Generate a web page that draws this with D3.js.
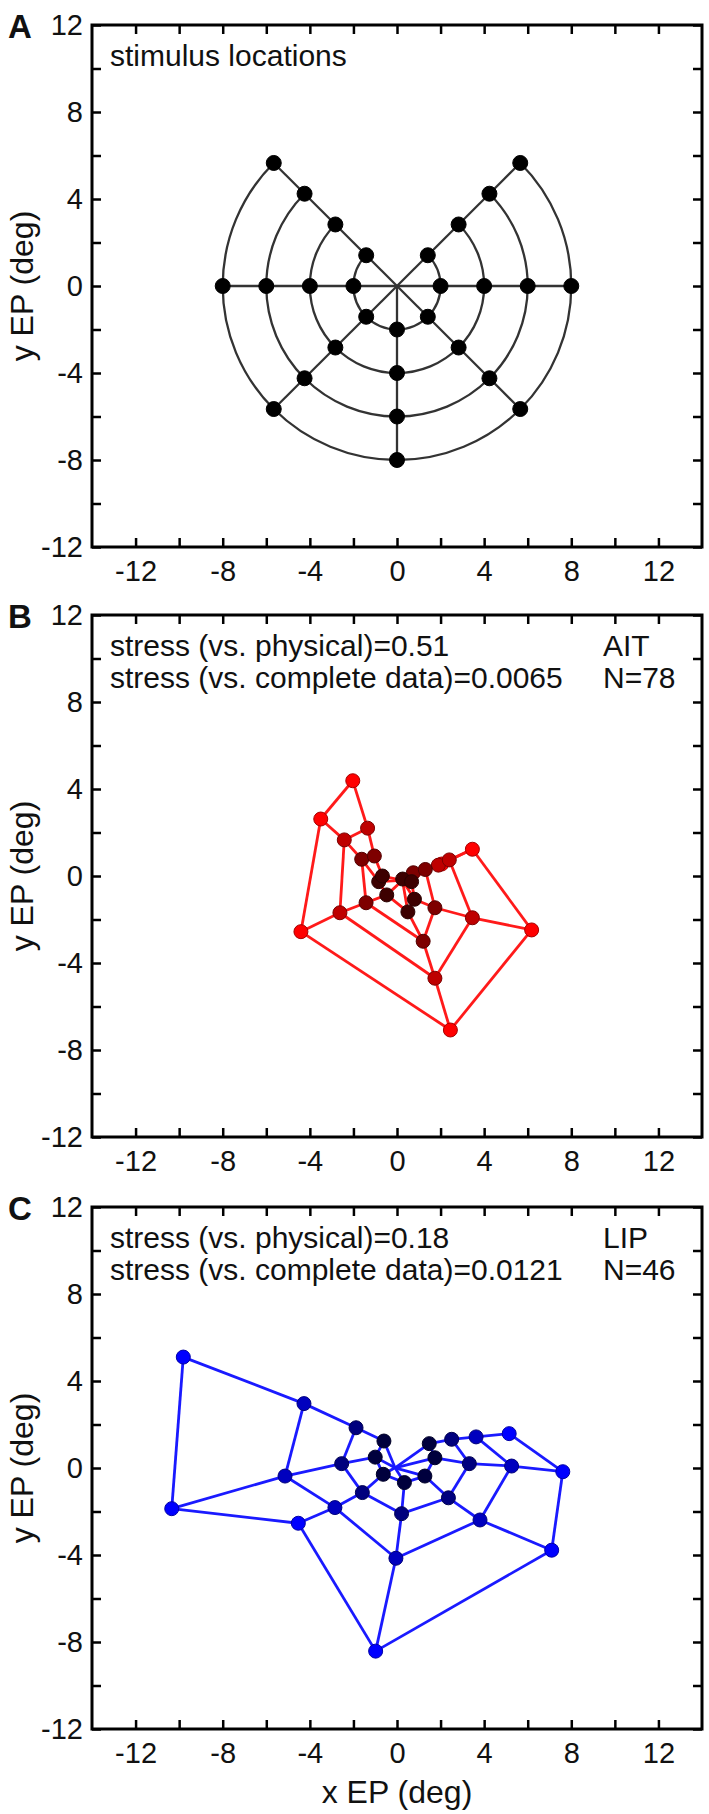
<!DOCTYPE html>
<html>
<head>
<meta charset="utf-8">
<script src="https://cdn.jsdelivr.net/npm/d3@7"></script>
<style>
  body { margin: 0; background: #fff; }
  text { font-family: "Liberation Sans", Arial, sans-serif; fill: #111; }
</style>
</head>
<body>
<script>
const width = 709,
      height = 1814;

// stimulus grid: polar angles (deg) and eccentricities (deg)
const angles = [45, 0, -45, -90, -135, 180, 135];
const radii = [2, 4, 6, 8];

const majorTicks = [-12, -8, -4, 0, 4, 8, 12];
const minorTicks = [-12, -10, -8, -6, -4, -2, 0, 2, 4, 6, 8, 10, 12];

// AIT MDS solution, one array per eccentricity, points in the order of `angles`
const aitHub = [0.25, -0.2];
const aitRing2 = [[0.26, -0.14], [0.67, -0.26], [0.8, -1.07], [0.5, -1.65], [-0.47, -0.87], [-0.84, -0.26], [-0.67, 0.0]];
const aitRing4 = [[0.75, 0.15], [1.3, 0.3], [1.74, -1.46], [1.2, -3.0], [-1.42, -1.23], [-1.62, 0.77], [-1.04, 0.92]];
const aitRing6 = [[1.9, 0.5], [2.4, 0.74], [3.46, -1.92], [1.74, -4.7], [-2.62, -1.69], [-2.42, 1.66], [-1.35, 2.2]];
const aitRing8 = [[2.05, 0.55], [3.46, 1.23], [6.18, -2.48], [2.45, -7.08], [-4.41, -2.56], [-3.5, 2.62], [-2.03, 4.38]];

// LIP MDS solution
const lipHub = [-0.09, 0.01];
const lipRing2 = [[1.48, 1.12], [1.74, 0.47], [1.28, -0.37], [0.34, -0.67], [-0.63, -0.29], [-1.0, 0.5], [-0.6, 1.24]];
const lipRing4 = [[2.51, 1.32], [3.32, 0.2], [2.36, -1.37], [0.21, -2.1], [-1.59, -1.13], [-2.54, 0.2], [-1.88, 1.85]];
const lipRing6 = [[3.63, 1.43], [5.26, 0.09], [3.81, -2.39], [-0.05, -4.15], [-2.85, -1.82], [-5.14, -0.37], [-4.27, 2.96]];
const lipRing8 = [[5.15, 1.58], [7.61, -0.17], [7.1, -3.78], [-0.98, -8.42], [-4.53, -2.54], [-10.34, -1.87], [-9.81, 5.1]];

const aitText = ["stress (vs. physical)=0.51", "stress (vs. complete data)=0.0065"];
const aitInfo = ["AIT", "N=78"];
const lipText = ["stress (vs. physical)=0.18", "stress (vs. complete data)=0.0121"];
const lipInfo = ["LIP", "N=46"];

const physRings = radii.map(r => angles.map(a => [r * Math.cos(a * Math.PI / 180), r * Math.sin(a * Math.PI / 180)]));

const left = 92, right = 702, panelH = 522;

const svg = d3.select("body")
    .append("svg")
    .attr("width", width)
    .attr("height", height);

const x = d3.scaleLinear()
    .domain([-14, 14])
    .range([left, right]);

const panels = [
  {top: 25, letter: "A", hub: [0, 0], rings: physRings, physical: true,
   colors: ["#000", "#000"], line: "#333", lines: ["stimulus locations"], info: []},
  {top: 615, letter: "B", hub: aitHub, rings: [aitRing2, aitRing4, aitRing6, aitRing8],
   colors: ["#3d0000", "#ff0000"], line: "#ff1a1a", lines: aitText, info: aitInfo},
  {top: 1207, letter: "C", hub: lipHub, rings: [lipRing2, lipRing4, lipRing6, lipRing8],
   colors: ["#00003d", "#0000ff"], line: "#1a1aff", lines: lipText, info: lipInfo}
];

panels.forEach((p, pi) => {
  const y = d3.scaleLinear()
      .domain([-12, 12])
      .range([p.top + panelH, p.top]);

  const g = svg.append("g");

  // ticks on all four sides, pointing in
  const fmt = d => (majorTicks.includes(d) ? String(d) : "");
  const ax = [
    d3.axisBottom(x).tickValues(minorTicks).tickSize(-9).tickPadding(13).tickFormat(fmt),
    d3.axisTop(x).tickValues(minorTicks).tickSize(-9).tickFormat(""),
    d3.axisLeft(y).tickValues(minorTicks).tickSize(-9).tickPadding(9).tickFormat(fmt),
    d3.axisRight(y).tickValues(minorTicks).tickSize(-9).tickFormat("")
  ];
  const pos = [`translate(0,${p.top + panelH})`, `translate(0,${p.top})`,
               `translate(${left},0)`, `translate(${right},0)`];
  ax.forEach((a, i) => {
    const ga = g.append("g").attr("transform", pos[i]).call(a);
    ga.select(".domain").remove();
    ga.selectAll("line").attr("stroke", "#000").attr("stroke-width", 2.5);
    ga.selectAll("text")
      .attr("fill", "#111")
      .style("font-family", '"Liberation Sans", Arial, sans-serif')
      .style("font-size", "29px");
  });

  g.append("rect")
    .attr("x", left).attr("y", p.top)
    .attr("width", right - left).attr("height", panelH)
    .attr("fill", "none").attr("stroke", "#000").attr("stroke-width", 3);

  // panel letter + y label
  g.append("text").attr("x", 8).attr("y", p.top + 13)
    .style("font-size", "33px").style("font-weight", "bold").text(p.letter);
  g.append("text")
    .attr("transform", `translate(33,${p.top + panelH / 2}) rotate(-90)`)
    .attr("text-anchor", "middle").style("font-size", "32px")
    .text("y EP (deg)");

  // annotations
  p.lines.forEach((t, i) => g.append("text").attr("x", 110).attr("y", p.top + 41 + i * 32)
    .style("font-size", "30px").text(t));
  p.info.forEach((t, i) => g.append("text").attr("x", 603).attr("y", p.top + 41 + i * 32)
    .style("font-size", "30px").text(t));

  // mesh
  const color = d3.scaleLinear().domain([2, 8]).range(p.colors);
  const edges = [];
  p.rings[0].forEach(pt => edges.push([p.hub, pt]));
  p.rings.forEach((ring, k) => {
    ring.forEach((pt, i) => {
      if (k < p.rings.length - 1) edges.push([pt, p.rings[k + 1][i]]);
    });
  });

  const mesh = g.append("g").attr("fill", "none").attr("stroke", p.line)
      .attr("stroke-width", p.physical ? 2.3 : 2.8);

  mesh.selectAll("line.spoke")
    .data(edges)
    .enter().append("line")
      .attr("x1", d => x(d[0][0])).attr("y1", d => y(d[0][1]))
      .attr("x2", d => x(d[1][0])).attr("y2", d => y(d[1][1]));

  p.rings.forEach((ring, k) => {
    const segs = d3.pairs(ring);
    const rx = x(radii[k]) - x(0), ry = y(0) - y(radii[k]);
    mesh.selectAll(null)
      .data(segs)
      .enter().append("path")
        .attr("d", d => p.physical
          ? `M${x(d[0][0])},${y(d[0][1])}A${rx},${ry} 0 0 1 ${x(d[1][0])},${y(d[1][1])}`
          : `M${x(d[0][0])},${y(d[0][1])}L${x(d[1][0])},${y(d[1][1])}`);
  });

  // markers, outer rings first
  const pts = [];
  p.rings.forEach((ring, k) => ring.forEach(pt => pts.push({pt, r: radii[k]})));
  pts.sort((a, b) => b.r - a.r);
  g.append("g").selectAll("circle")
    .data(pts)
    .enter().append("circle")
      .attr("cx", d => x(d.pt[0]))
      .attr("cy", d => y(d.pt[1]))
      .attr("r", p.physical ? 7.5 : 7)
      .attr("fill", d => color(d.r))
      .attr("stroke", d => d3.color(color(d.r)).darker(1.2))
      .attr("stroke-width", 1);
});

svg.append("text")
  .attr("x", (left + right) / 2).attr("y", 1803)
  .attr("text-anchor", "middle").style("font-size", "32px")
  .text("x EP (deg)");
</script>
</body>
</html>
